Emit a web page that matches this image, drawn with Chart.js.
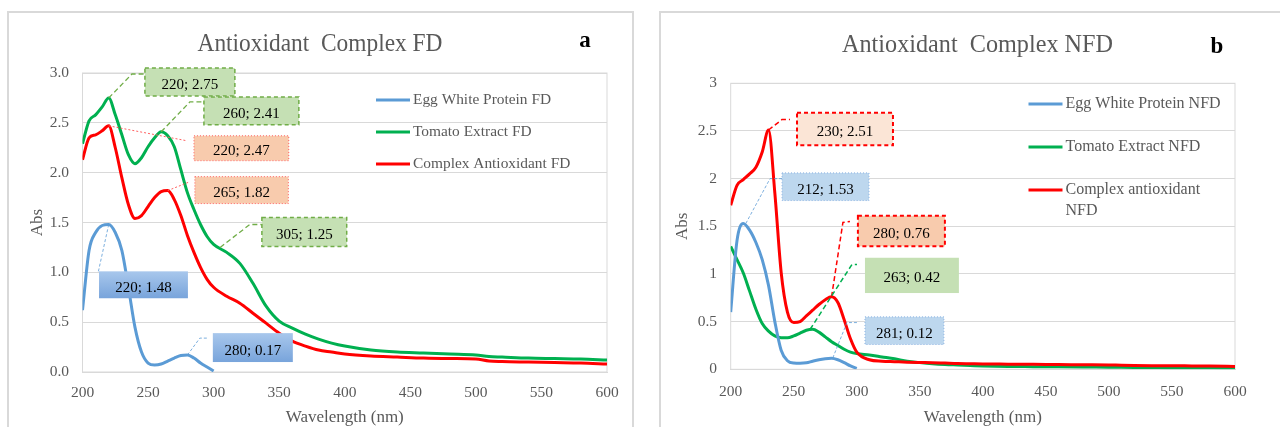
<!DOCTYPE html>
<html>
<head>
<meta charset="utf-8">
<script src="https://cdn.jsdelivr.net/npm/chart.js@4.4.1/dist/chart.umd.min.js"></script>
<style>
    html, body { margin: 0; padding: 0; width: 1280px; height: 427px; overflow: hidden; background: #fff; }
    .panel { position: absolute; top: 0; width: 640px; height: 445px; }
    .frame { position: absolute; box-sizing: border-box; border: 2px solid #d9d9d9; pointer-events: none; }
</style>
</head>
<body>
<div class="panel" style="left:0"><canvas id="chart-fd" width="640" height="445"></canvas></div>
<div class="panel" style="left:640px"><canvas id="chart-nfd" width="640" height="445"></canvas></div>
<div class="frame" style="left:7px; top:11px; width:627px; height:440px"></div>
<div class="frame" style="left:659px; top:11px; width:640px; height:440px"></div>
<script>
// -- DATA --

const wavelength = [200, 205, 210, 215, 220, 225, 230, 235, 240, 245, 250, 255, 260, 265, 270, 275, 280, 285, 290, 295, 300,
    310, 320, 330, 340, 350, 360, 370, 380, 390, 400, 420, 440, 460, 480, 500, 510, 520, 540, 560, 580, 600];

// panel a (FD)
const eggWhiteFD = [0.62, 1.22, 1.40, 1.47, 1.48, 1.40, 1.22, 0.85, 0.45, 0.20, 0.09, 0.07, 0.08, 0.11, 0.14, 0.165, 0.17, 0.14, 0.09, 0.05, 0.01];
const tomatoFD = [2.29, 2.52, 2.58, 2.66, 2.75, 2.58, 2.38, 2.18, 2.09, 2.15, 2.26, 2.35, 2.41, 2.37, 2.26, 2.03, 1.80, 1.63, 1.48, 1.36, 1.28,
    1.20, 1.09, 0.89, 0.66, 0.51, 0.44, 0.38, 0.33, 0.29, 0.26, 0.22, 0.20, 0.19, 0.18, 0.17, 0.155, 0.15, 0.14, 0.135, 0.13, 0.12];
const complexFD = [2.13, 2.35, 2.38, 2.42, 2.47, 2.25, 1.95, 1.68, 1.54, 1.57, 1.66, 1.75, 1.81, 1.82, 1.73, 1.57, 1.37, 1.20, 1.05, 0.93, 0.85,
    0.76, 0.69, 0.59, 0.49, 0.39, 0.31, 0.26, 0.22, 0.20, 0.18, 0.16, 0.15, 0.14, 0.135, 0.13, 0.11, 0.105, 0.10, 0.095, 0.09, 0.08];

// panel b (NFD)
const eggWhiteNFD = [0.60, 1.35, 1.53, 1.46, 1.33, 1.15, 0.88, 0.50, 0.20, 0.09, 0.065, 0.063, 0.068, 0.085, 0.10, 0.11, 0.115, 0.10, 0.07, 0.035, 0.01];
const tomatoNFD = [1.29, 1.15, 1.01, 0.82, 0.63, 0.48, 0.40, 0.35, 0.33, 0.33, 0.35, 0.38, 0.41, 0.42, 0.39, 0.34, 0.29, 0.25, 0.21, 0.18, 0.165,
    0.15, 0.13, 0.11, 0.085, 0.07, 0.058, 0.05, 0.045, 0.04, 0.035, 0.03, 0.028, 0.026, 0.024, 0.022, 0.021, 0.02, 0.018, 0.016, 0.015, 0.014];
const complexNFD = [1.72, 1.93, 1.99, 2.05, 2.12, 2.28, 2.51, 1.85, 1.02, 0.60, 0.49, 0.50, 0.56, 0.62, 0.68, 0.73, 0.76, 0.70, 0.52, 0.32, 0.18,
    0.10, 0.085, 0.08, 0.075, 0.072, 0.07, 0.065, 0.06, 0.058, 0.056, 0.054, 0.052, 0.05, 0.048, 0.046, 0.042, 0.04, 0.038, 0.036, 0.034, 0.03];

// peak read-outs shown in the callouts
const fdPeakNm = [220, 260, 220, 265, 305, 220, 280];
const fdPeakAbs = [2.75, 2.41, 2.47, 1.82, 1.25, 1.48, 0.17];
const nfdPeakNm = [230, 212, 280, 263, 281];
const nfdPeakAbs = [2.51, 1.53, 0.76, 0.42, 0.12];

// tick labels
const wavelengthTicks = [200, 250, 300, 350, 400, 450, 500, 550, 600];
const absTicks = [0, 0.5, 1, 1.5, 2, 2.5, 3];

// -- STYLES --

const BLUE = '#5b9bd5';
const GREEN = '#00b050';
const RED = '#ff0000';
const TEXT = '#595959';
const SERIF = '"Liberation Serif", "Times New Roman", serif';

const calloutStyles = {
    greenDash: { fill: '#c5e0b4', border: '#70ad47', borderDash: [4, 3], borderWidth: 1.5, line: '#70ad47', lineDash: [5, 3], lineWidth: 1.3 },
    greenPlain: { fill: '#c5e0b4', line: '#00b050', lineDash: [5, 3], lineWidth: 1.5 },
    redDot: { fill: '#f8cbad', border: '#ff6060', borderDash: [1, 2], borderWidth: 1, line: '#ff6060', lineDash: [2, 2], lineWidth: 1 },
    redDash: { fill: '#fbe5d6', border: '#ff0000', borderDash: [4, 3], borderWidth: 2, line: '#ff0000', lineDash: [5, 3], lineWidth: 1.5 },
    redDashDark: { fill: '#f8cbad', border: '#ff0000', borderDash: [4, 3], borderWidth: 2, line: '#ff0000', lineDash: [5, 3], lineWidth: 1.5 },
    blueGrad: { fill: '#a8c7ec', fill2: '#78a4db', line: '#5b9bd5', lineDash: [3, 2], lineWidth: 0.8 },
    blueDot: { fill: '#bdd7ee', border: '#8db3e2', borderDash: [1, 2], borderWidth: 1, line: '#5b9bd5', lineDash: [3, 2], lineWidth: 0.8 }
};

// box = [nm left, abs top, nm right, abs bottom], lead = leader line points after the peak
const fdCallouts = [
    { style: 'greenDash', box: [247.6, 3.05, 316.2, 2.77], lead: [[237.7, 2.99], [247.6, 2.99]] },
    { style: 'greenDash', box: [292.6, 2.76, 365, 2.48], lead: [[281.9, 2.71], [292.6, 2.71]] },
    { style: 'redDot', box: [285, 2.37, 357.3, 2.12], lead: [[279.6, 2.32]] },
    { style: 'redDot', box: [285.7, 1.96, 357, 1.69], lead: [[282, 1.91]] },
    { style: 'greenDash', box: [336.8, 1.55, 401.5, 1.26], lead: [[327.6, 1.48], [336.8, 1.48]] },
    { style: 'blueGrad', box: [212.6, 1.01, 280.4, 0.74], lead: [[211.8, 0.99]] },
    { style: 'blueGrad', box: [299.4, 0.39, 360.4, 0.10], lead: [[289.5, 0.34], [294.9, 0.34]] }
];
const nfdCallouts = [
    { style: 'redDash', box: [252.6, 2.69, 328.7, 2.35], lead: [[240.7, 2.62], [247, 2.62]] },
    { style: 'blueDot', box: [240.7, 2.06, 309.7, 1.77], lead: [[231.2, 2.0], [240.7, 2.0]] },
    { style: 'redDashDark', box: [300.9, 1.61, 369.9, 1.29], lead: [[289, 1.54], [294.6, 1.55]] },
    { style: 'greenPlain', box: [306.5, 1.17, 381, 0.80], lead: [[296.2, 1.10], [300.2, 1.10]] },
    { style: 'blueDot', box: [306.5, 0.55, 369.1, 0.26], lead: [[292.2, 0.49], [300.2, 0.49]] }
];

// -- PLUGINS --

// plot area frame (Excel style)
const plotFrame = {
    id: 'plotFrame',
    beforeDatasetsDraw(chart) {
        const { ctx, chartArea: a } = chart;
        ctx.save();
        ctx.strokeStyle = '#d9d9d9';
        ctx.lineWidth = 1;
        ctx.strokeRect(a.left, a.top, a.right - a.left, a.bottom - a.top);
        ctx.restore();
    }
};

// data label callouts
const callouts = {
    id: 'callouts',
    afterDatasetsDraw(chart, args, opts) {
        const { ctx, scales: { x, y } } = chart;
        opts.items.forEach(function (c, i) {
            const st = calloutStyles[c.style];
            const ax = x.getPixelForValue(opts.nm[i]);
            const ay = y.getPixelForValue(opts.abs[i]);
            ctx.save();
            //leader
            ctx.strokeStyle = st.line;
            ctx.lineWidth = st.lineWidth;
            ctx.setLineDash(st.lineDash);
            ctx.beginPath();
            ctx.moveTo(ax, ay);
            c.lead.forEach(function (p) { ctx.lineTo(x.getPixelForValue(p[0]), y.getPixelForValue(p[1])); });
            ctx.stroke();
            //box
            const bx0 = x.getPixelForValue(c.box[0]);
            const by0 = y.getPixelForValue(c.box[1]);
            const bx1 = x.getPixelForValue(c.box[2]);
            const by1 = y.getPixelForValue(c.box[3]);
            if (st.fill2) {
                const g = ctx.createLinearGradient(0, by0, 0, by1);
                g.addColorStop(0, st.fill);
                g.addColorStop(1, st.fill2);
                ctx.fillStyle = g;
            } else {
                ctx.fillStyle = st.fill;
            }
            ctx.setLineDash([]);
            ctx.fillRect(bx0, by0, bx1 - bx0, by1 - by0);
            if (st.border) {
                ctx.strokeStyle = st.border;
                ctx.lineWidth = st.borderWidth;
                ctx.setLineDash(st.borderDash);
                ctx.strokeRect(bx0, by0, bx1 - bx0, by1 - by0);
            }
            //text
            ctx.fillStyle = '#000';
            ctx.font = opts.fontSize + 'px ' + SERIF;
            ctx.textAlign = 'center';
            ctx.textBaseline = 'middle';
            ctx.fillText(opts.nm[i] + '; ' + opts.abs[i].toFixed(2), (bx0 + bx1) / 2, (by0 + by1) / 2 + 3);
            ctx.restore();
        });
    }
};

// legend placed inside the plot, title and panel letter
const heading = {
    id: 'heading',
    afterDraw(chart, args, opts) {
        const ctx = chart.ctx;
        ctx.save();
        //title
        ctx.fillStyle = TEXT;
        ctx.textAlign = 'center';
        ctx.textBaseline = 'alphabetic';
        ctx.font = opts.titleSize + 'px ' + SERIF;
        ctx.fillText(opts.title, opts.titleX, opts.titleY, opts.titleWidth);
        //panel letter
        ctx.fillStyle = '#000';
        ctx.font = 'bold ' + opts.tagSize + 'px ' + SERIF;
        ctx.fillText(opts.tag, opts.tagX, opts.tagY);
        //legend
        ctx.font = opts.legendSize + 'px ' + SERIF;
        ctx.textAlign = 'left';
        ctx.textBaseline = 'middle';
        chart.data.datasets.forEach(function (ds, i) {
            const yy = opts.legendTop + i * opts.legendGap;
            ctx.strokeStyle = ds.borderColor;
            ctx.lineWidth = 3;
            ctx.beginPath();
            ctx.moveTo(opts.legendLeft, yy);
            ctx.lineTo(opts.legendLeft + 34, yy);
            ctx.stroke();
            //wrap label
            const words = ds.label.split(' ');
            let line = '';
            let row = 0;
            ctx.fillStyle = TEXT;
            words.forEach(function (w) {
                const test = line ? line + ' ' + w : w;
                if (ctx.measureText(test).width > opts.legendWidth && line) {
                    ctx.fillText(line, opts.legendLeft + 37, yy + row * opts.legendLine);
                    line = w;
                    row++;
                } else {
                    line = test;
                }
            });
            ctx.fillText(line, opts.legendLeft + 37, yy + row * opts.legendLine);
        });
        ctx.restore();
    }
};

function toPoints(values) {
    return values.map(function (v, i) { return { x: wavelength[i], y: v }; });
}

function makeChart(canvas, setup) {
    return new Chart(canvas, {
        type: 'line',
        data: {
            datasets: [
                { label: setup.labels[0], data: toPoints(setup.series[0]), borderColor: BLUE, order: 1 },
                { label: setup.labels[1], data: toPoints(setup.series[1]), borderColor: GREEN, order: 2 },
                { label: setup.labels[2], data: toPoints(setup.series[2]), borderColor: RED, order: 0 }
            ]
        },
        options: {
            responsive: false,
            animation: false,
            layout: { padding: setup.padding },
            elements: {
                point: { radius: 0 },
                line: { borderWidth: 3, cubicInterpolationMode: 'monotone', fill: false }
            },
            scales: {
                x: {
                    type: 'linear', min: 200, max: 600,
                    afterBuildTicks: function (axis) { axis.ticks = wavelengthTicks.map(function (v) { return { value: v }; }); },
                    afterFit: function (axis) { axis.height = setup.xHeight; },
                    grid: { display: false, drawTicks: false },
                    border: { display: true, color: '#d9d9d9' },
                    ticks: { color: TEXT, font: { family: SERIF, size: setup.tickSize }, padding: setup.xTickPad, maxRotation: 0 },
                    title: { display: true, text: 'Wavelength (nm)', color: TEXT, font: { family: SERIF, size: 17 }, padding: { top: 0, bottom: 16.8 } }
                },
                y: {
                    min: 0, max: 3,
                    afterBuildTicks: function (axis) { axis.ticks = absTicks.map(function (v) { return { value: v }; }); },
                    afterFit: function (axis) { axis.width = setup.yWidth; },
                    grid: { color: '#d9d9d9', drawTicks: false },
                    border: { display: false },
                    ticks: { color: TEXT, font: { family: SERIF, size: setup.tickSize }, padding: setup.yTickPad, callback: setup.yFormat },
                    title: { display: true, text: 'Abs', color: TEXT, font: { family: SERIF, size: 17 }, padding: { top: setup.yTitlePad, bottom: 0 } }
                }
            },
            plugins: {
                legend: { display: false },
                tooltip: { enabled: false },
                callouts: { nm: setup.peakNm, abs: setup.peakAbs, items: setup.callouts, fontSize: 15 },
                heading: setup.heading
            }
        },
        plugins: [plotFrame, callouts, heading]
    });
}

// -- panel a --
makeChart(document.getElementById('chart-fd'), {
    labels: ['Egg White Protein FD', 'Tomato Extract FD', 'Complex Antioxidant FD'],
    series: [eggWhiteFD, tomatoFD, complexFD],
    peakNm: fdPeakNm, peakAbs: fdPeakAbs, callouts: fdCallouts,
    padding: { top: 73, right: 33, left: 0, bottom: 0 },
    xHeight: 73, yWidth: 82.5, tickSize: 15.5, xTickPad: 11.7, yTickPad: 13.5, yTitlePad: 27.8,
    yFormat: function (v) { return v.toFixed(1); },
    heading: {
        title: 'Antioxidant  Complex FD', titleX: 320, titleY: 50.7, titleSize: 25, titleWidth: 245,
        tag: 'a', tagX: 585, tagY: 46.7, tagSize: 23,
        legendLeft: 376, legendTop: 100, legendGap: 32, legendSize: 15.4, legendWidth: 200, legendLine: 21
    }
});

// -- panel b --
makeChart(document.getElementById('chart-nfd'), {
    labels: ['Egg White Protein NFD', 'Tomato Extract NFD', 'Complex antioxidant NFD'],
    series: [eggWhiteNFD, tomatoNFD, complexNFD],
    peakNm: nfdPeakNm, peakAbs: nfdPeakAbs, callouts: nfdCallouts,
    padding: { top: 83.3, right: 45, left: 0, bottom: 0 },
    xHeight: 75.7, yWidth: 90.7, tickSize: 15.5, xTickPad: 13.1, yTickPad: 13.7, yTitlePad: 32.8,
    yFormat: function (v) { return String(v); },
    heading: {
        title: 'Antioxidant  Complex NFD', titleX: 337.5, titleY: 52.3, titleSize: 26, titleWidth: 271,
        tag: 'b', tagX: 577, tagY: 52.7, tagSize: 23,
        legendLeft: 388.5, legendTop: 104, legendGap: 43, legendSize: 16, legendWidth: 162, legendLine: 20.7
    }
});
</script>
</body>
</html>
